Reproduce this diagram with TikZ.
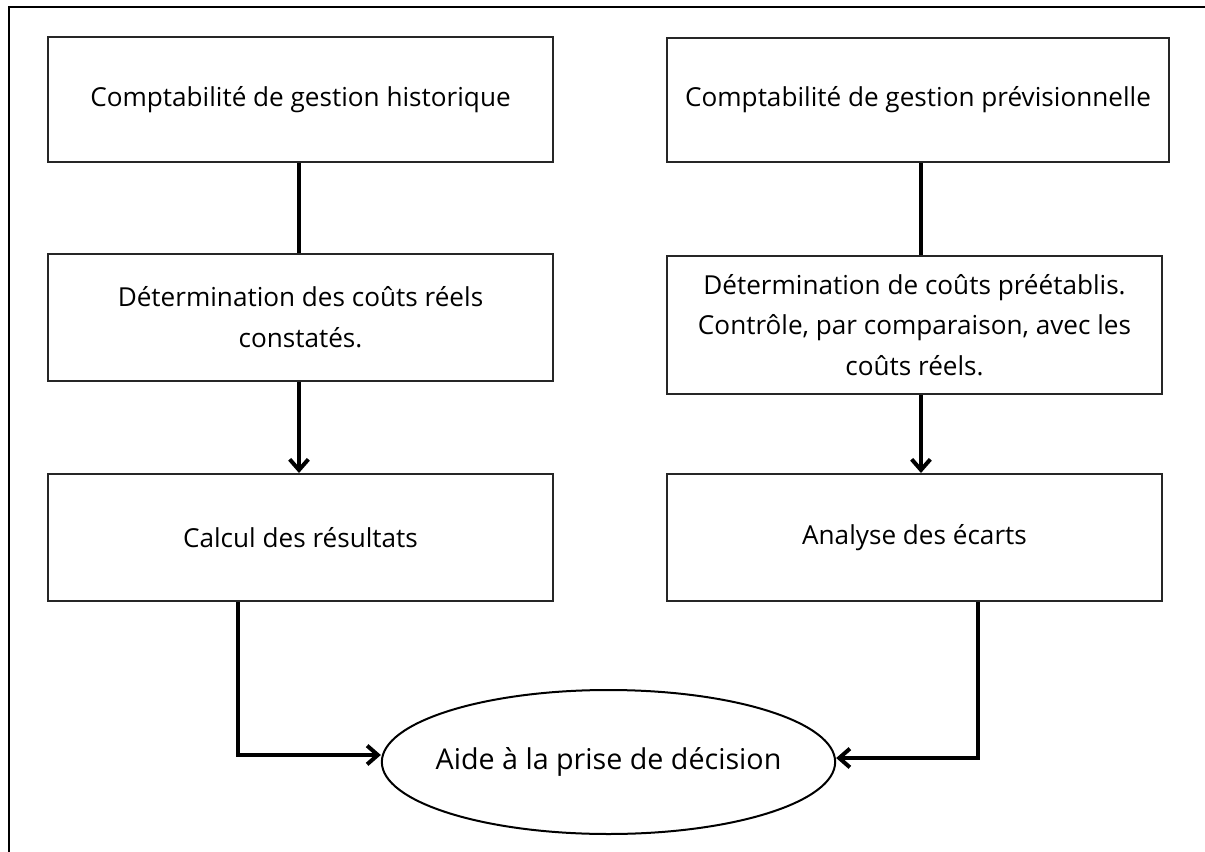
\documentclass[tikz,border=0pt]{standalone}
\usepackage{fontspec}
\setmainfont{Open Sans}
\usetikzlibrary{arrows.meta,shapes.geometric}
\begin{document}
\begin{tikzpicture}[x=0.75pt,y=-0.75pt,
  stepbox/.style={draw=black!85,line width=1.5pt,align=center,inner sep=0pt,
    font=\fontsize{19.6}{30.5}\selectfont},
  link/.style={line width=3pt},
  flow/.style={line width=3pt,-{Straight Barb[length=8pt,width=14pt,line width=3pt]}},
  goal/.style={draw,ellipse,line width=1.5pt,inner sep=0pt,
    minimum width=340pt,minimum height=108pt},
  goaltext/.style={font=\fontsize{21.5}{26}\selectfont}]
\useasboundingbox (0,0) rectangle (1205,852);
% open frame: top and left edges only
\draw[line width=2.2pt] (9,852) -- (9,7) -- (1205,7);
% left column
\node[stepbox,minimum width=378.75pt,minimum height=93.75pt] (L1) at (300.5,99.5)
  {Comptabilité de gestion historique};
\node[stepbox,minimum width=378.75pt,minimum height=95.25pt] (L2) at (300.5,317.5)
  {Détermination des coûts réels\\constatés.};
\node[stepbox,minimum width=378.75pt,minimum height=95.25pt] (L3) at (300.5,537.5)
  {Calcul des résultats};
% right column
\node[stepbox,minimum width=376.5pt,minimum height=93pt] (R1) at (918,100)
  {Comptabilité de gestion prévisionnelle};
\node[stepbox,minimum width=371.25pt,minimum height=103.5pt] (R2) at (914.5,325)
  {Détermination de coûts préétablis.\\Contrôle, par comparaison, avec les\\coûts réels.};
\node[stepbox,minimum width=371.25pt,minimum height=95.25pt] (R3) at (914.5,537.5)
  {Analyse des écarts};
% decision ellipse, fixed size; its text is a centred label
\node[goal,label={[goaltext]center:Aide à la prise de décision}] (D) at (608.5,762) {};
% column links
\coordinate (lx) at (299,0);
\coordinate (rx) at (921,0);
\draw[link] (L1.south -| lx) -- (L2.north -| lx);
\draw[link] (R1.south -| rx) -- (R2.north -| rx);
\draw[flow] (L2.south -| lx) -- (L3.north -| lx);
\draw[flow] (R2.south -| rx) -- (R3.north -| rx);
% branches into the ellipse
\coordinate (lb) at (238,755);
\coordinate (rb) at (978,758);
\draw[flow] (L3.south -| lb) -- (lb) -- (lb -| D.west);
\draw[flow] (R3.south -| rb) -- (rb) -- (rb -| D.east);
\end{tikzpicture}
\end{document}
